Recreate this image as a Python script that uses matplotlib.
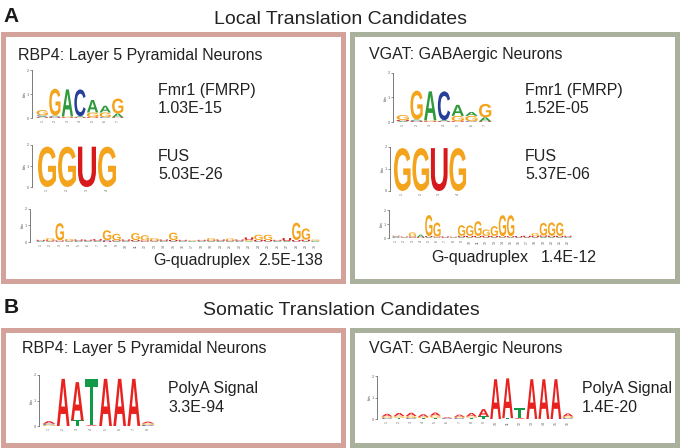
import matplotlib
matplotlib.use('Agg')
import matplotlib.pyplot as plt
from matplotlib.textpath import TextPath
from matplotlib.font_manager import FontProperties
from matplotlib.patches import PathPatch, Rectangle
from matplotlib.transforms import Affine2D

plt.rcParams['font.family'] = ['Liberation Sans', 'DejaVu Sans']

# ---------------- data ----------------
section_labels = ['A', 'B']
section_titles = ['Local Translation Candidates', 'Somatic Translation Candidates']
panel_titles = ['RBP4: Layer 5 Pyramidal Neurons', 'VGAT: GABAergic Neurons']
local_motif_names = ['Fmr1 (FMRP)', 'FUS', 'G-quadruplex']
local_pvalues_rbp4 = ['1.03E-15', '5.03E-26', '2.5E-138']
local_pvalues_vgat = ['1.52E-05', '5.37E-06', '1.4E-12']
somatic_motif_name = 'PolyA Signal'
somatic_pvalues = ['3.3E-94', '1.4E-20']

# logo columns: list of (letter, bits) from bottom to top
fmr1_rbp4 = [
    [('U', 0.03), ('A', 0.04), ('C', 0.04), ('G', 0.22)],
    [('U', 0.03), ('C', 0.03), ('A', 0.04), ('G', 1.12)],
    [('U', 0.03), ('G', 0.04), ('A', 1.12)],
    [('U', 0.03), ('A', 0.04), ('C', 1.12)],
    [('U', 0.03), ('G', 0.20), ('A', 0.52)],
    [('C', 0.03), ('G', 0.20), ('A', 0.28)],
    [('U', 0.03), ('A', 0.16), ('G', 0.62)],
]
fmr1_vgat = [
    [('A', 0.04), ('U', 0.04), ('G', 0.20)],
    [('U', 0.03), ('C', 0.03), ('A', 0.04), ('G', 1.18)],
    [('U', 0.03), ('G', 0.04), ('A', 1.18)],
    [('U', 0.03), ('A', 0.04), ('C', 1.18)],
    [('U', 0.03), ('G', 0.22), ('A', 0.45)],
    [('C', 0.03), ('G', 0.22), ('A', 0.16)],
    [('U', 0.03), ('A', 0.16), ('G', 0.55)],
]
fus_rbp4 = [[('G', 1.92)], [('G', 1.92)], [('U', 1.92)], [('G', 1.92)]]
fus_vgat = [[('G', 1.95)], [('G', 1.95)], [('U', 1.95)], [('G', 1.95)]]
gquad_rbp4 = [
    [('C', 0.03), ('A', 0.04), ('U', 0.06)],
    [('A', 0.04), ('U', 0.06), ('G', 0.14)],
    [('C', 0.03), ('U', 0.06), ('G', 1.05)],
    [('A', 0.04), ('U', 0.05), ('G', 0.10)],
    [('C', 0.03), ('A', 0.04), ('U', 0.08)],
    [('A', 0.04), ('C', 0.03), ('U', 0.07)],
    [('C', 0.03), ('A', 0.04), ('U', 0.10)],
    [('U', 0.06), ('C', 0.05), ('G', 0.60)],
    [('A', 0.04), ('U', 0.06), ('G', 0.40)],
    [('C', 0.03), ('A', 0.04), ('U', 0.08)],
    [('A', 0.04), ('U', 0.08), ('G', 0.42)],
    [('C', 0.03), ('U', 0.06), ('G', 0.32)],
    [('A', 0.04), ('U', 0.06), ('G', 0.14)],
    [('C', 0.03), ('A', 0.04), ('U', 0.08)],
    [('A', 0.04), ('U', 0.08), ('G', 0.45)],
    [('C', 0.03), ('A', 0.04), ('U', 0.06)],
    [('A', 0.03), ('C', 0.03), ('G', 0.05)],
    [('C', 0.03), ('A', 0.04), ('U', 0.06)],
    [('A', 0.04), ('U', 0.06), ('G', 0.14)],
    [('C', 0.03), ('A', 0.04), ('U', 0.08)],
    [('A', 0.04), ('U', 0.06), ('G', 0.12)],
    [('C', 0.03), ('A', 0.04), ('U', 0.08)],
    [('A', 0.04), ('G', 0.08), ('U', 0.16)],
    [('C', 0.04), ('U', 0.08), ('G', 0.32)],
    [('A', 0.04), ('U', 0.08), ('G', 0.32)],
    [('C', 0.03), ('A', 0.04), ('U', 0.06)],
    [('A', 0.06), ('U', 0.18)],
    [('C', 0.04), ('U', 0.08), ('G', 1.05)],
    [('A', 0.04), ('U', 0.10), ('G', 0.68)],
    [('C', 0.03), ('A', 0.04), ('G', 0.08)],
]
gquad_vgat = [
    [('C', 0.05), ('A', 0.06), ('U', 0.05)],
    [('A', 0.04), ('U', 0.06)],
    [('C', 0.04), ('U', 0.06), ('G', 0.30)],
    [('U', 0.06), ('A', 0.18)],
    [('A', 0.06), ('U', 0.08), ('G', 1.50)],
    [('A', 0.04), ('U', 0.06), ('G', 1.00)],
    [('C', 0.03), ('U', 0.08)],
    [('A', 0.04), ('U', 0.05)],
    [('A', 0.06), ('U', 0.10), ('G', 0.75)],
    [('A', 0.05), ('U', 0.10), ('G', 0.75)],
    [('A', 0.05), ('U', 0.10), ('G', 1.05)],
    [('A', 0.04), ('U', 0.12), ('G', 0.45)],
    [('A', 0.05), ('U', 0.10), ('G', 0.70)],
    [('A', 0.05), ('U', 0.08), ('G', 1.50)],
    [('A', 0.05), ('U', 0.08), ('G', 1.50)],
    [('C', 0.04), ('U', 0.10)],
    [('A', 0.04), ('U', 0.12)],
    [('A', 0.05), ('U', 0.10), ('G', 0.20)],
    [('A', 0.08), ('U', 0.10), ('G', 0.90)],
    [('A', 0.06), ('U', 0.10), ('G', 0.95)],
    [('A', 0.05), ('U', 0.10), ('G', 0.95)],
    [('C', 0.04), ('A', 0.04), ('U', 0.08)],
]
polya_rbp4 = [
    [('G', 0.05), ('C', 0.04), ('A', 0.10)],
    [('A', 1.85)],
    [('T', 0.22), ('A', 1.50)],
    [('A', 0.04), ('T', 1.80)],
    [('A', 1.85)],
    [('A', 1.85)],
    [('A', 1.85)],
    [('C', 0.04), ('G', 0.06), ('A', 0.07)],
]
polya_vgat = [
    [('C', 0.04), ('G', 0.08), ('A', 0.12)],
    [('T', 0.06), ('G', 0.08), ('A', 0.14)],
    [('C', 0.04), ('G', 0.10), ('A', 0.15)],
    [('T', 0.04), ('G', 0.06), ('A', 0.12)],
    [('T', 0.06), ('G', 0.10), ('A', 0.14)],
    [('C', 0.03), ('A', 0.05)],
    [('C', 0.04), ('G', 0.06), ('A', 0.10)],
    [('T', 0.06), ('G', 0.06), ('A', 0.16)],
    [('T', 0.12), ('A', 0.34)],
    [('A', 1.85)],
    [('T', 0.04), ('A', 1.85)],
    [('A', 0.05), ('T', 0.45)],
    [('A', 1.85)],
    [('A', 1.85)],
    [('A', 1.85)],
    [('C', 0.04), ('G', 0.08), ('A', 0.14)],
]

rna_colors = {'A': '#2f9a3c', 'C': '#26409a', 'G': '#f4a41c', 'U': '#d7191c'}
dna_colors = {'A': '#e8221e', 'C': '#26409a', 'G': '#f4a41c', 'T': '#139a48'}

# ---------------- figure ----------------
W, H = 681, 448
fig = plt.figure(figsize=(W / 100, H / 100), dpi=100)
TXT = '#222222'
PINK = '#d3a39b'
GREEN = '#a9b19d'


def fx(x):
    return x / W


def fy(y):
    return 1 - y / H


def ftext(x, y, s, size=11.5, **kw):
    kw.setdefault('color', TXT)
    fig.text(fx(x), fy(y), s, fontsize=size, va='baseline', **kw)


def box(x0, y0, x1, y1, color):
    fig.add_artist(Rectangle((fx(x0), fy(y1)), (x1 - x0) / W, (y1 - y0) / H,
                             transform=fig.transFigure, fill=False,
                             edgecolor=color, linewidth=3.6))


letter_font = FontProperties(family='Liberation Sans', weight='bold')
_paths = {}


def letter_path(ch):
    if ch not in _paths:
        _paths[ch] = TextPath((0, 0), ch, size=1, prop=letter_font)
    return _paths[ch]


def logo(columns, colors, x_axis, x_start, x_end, y_top, y_zero):
    n = len(columns)
    w = (x_end - x_start) / n
    ax = fig.add_axes([fx(x_axis), fy(y_zero), (x_end - x_axis) / W, (y_zero - y_top) / H])
    ax.set_xlim(0.5 - (x_start - x_axis) / w, n + 0.5)
    ax.set_ylim(0, 2)
    ax.patch.set_alpha(0)
    for s in ['top', 'right', 'bottom']:
        ax.spines[s].set_visible(False)
    ax.spines['left'].set_color('#666666')
    ax.spines['left'].set_linewidth(0.6)
    ax.set_yticks([0, 1, 2])
    ax.set_yticklabels(['0', '1', '2'], fontsize=2.8, color='#555555')
    ax.tick_params(axis='y', length=1.5, width=0.5, pad=0.5, colors='#666666')
    ax.set_ylabel('bits', fontsize=2.8, color='#555555', labelpad=0.5)
    ax.set_xticks(range(1, n + 1))
    ax.set_xticklabels([str(i) for i in range(1, n + 1)], fontsize=2.6,
                       rotation=90, color='#666666')
    ax.tick_params(axis='x', length=0, pad=1.5)
    for i, col in enumerate(columns, start=1):
        y = 0.0
        for ch, h in col:
            p = letter_path(ch)
            e = p.get_extents()
            tr = (Affine2D().translate(-e.x0, -e.y0)
                  .scale(0.9 / e.width, h / e.height)
                  .translate(i - 0.45, y))
            ax.add_patch(PathPatch(tr.transform_path(p), facecolor=colors[ch],
                                   edgecolor='none'))
            y += h
    return ax


# section headings
ftext(3, 22, section_labels[0], size=15, fontweight='bold', color='#1a1a1a')
fig.text(fx(341), fy(24), section_titles[0], fontsize=14, ha='center', va='baseline', color=TXT)
ftext(4, 313, section_labels[1], size=15, fontweight='bold', color='#1a1a1a')
fig.text(fx(341), fy(315), section_titles[1], fontsize=14, ha='center', va='baseline', color=TXT)

# boxes
box(2.5, 34.5, 342.5, 280.5, PINK)
box(351.5, 34.5, 676.5, 280.5, GREEN)
box(2.5, 329.5, 342.5, 444.5, PINK)
box(351.5, 329.5, 676.5, 444.5, GREEN)

# panel titles
ftext(18, 60, panel_titles[0])
ftext(369, 59, panel_titles[1])
ftext(22, 353, panel_titles[0])
ftext(369, 353, panel_titles[1])

# local motifs - RBP4
ftext(158, 95, local_motif_names[0])
ftext(158, 113, local_pvalues_rbp4[0])
ftext(158, 161, local_motif_names[1])
ftext(158, 179, local_pvalues_rbp4[1])
ftext(153, 265, local_motif_names[2])
fig.text(fx(323), fy(265), local_pvalues_rbp4[2], fontsize=11.5, ha='right', va='baseline', color=TXT)

# local motifs - VGAT
ftext(525, 95, local_motif_names[0])
ftext(525, 113, local_pvalues_vgat[0])
ftext(525, 161, local_motif_names[1])
ftext(525, 179, local_pvalues_vgat[1])
ftext(431, 262, local_motif_names[2])
fig.text(fx(597), fy(262), local_pvalues_vgat[2], fontsize=11.5, ha='right', va='baseline', color=TXT)

# somatic
ftext(168, 393, somatic_motif_name)
ftext(168, 412, somatic_pvalues[0])
ftext(582, 393, somatic_motif_name)
ftext(582, 412, somatic_pvalues[1])

# logos
logo(fmr1_rbp4, rna_colors, 32, 36, 124, 70, 118)
logo(fus_rbp4, rna_colors, 32, 37, 117, 145, 187)
logo(gquad_rbp4, rna_colors, 30, 36, 320, 209, 242)
logo(fmr1_vgat, rna_colors, 393, 396, 492, 73, 122)
logo(fus_vgat, rna_colors, 390, 393, 467, 147, 191)
logo(gquad_vgat, rna_colors, 389, 392, 572, 210, 238)
logo(polya_rbp4, dna_colors, 39, 42, 155, 375, 426)
logo(polya_vgat, dna_colors, 377, 381, 574, 376, 419)

fig.savefig('out.png', dpi=100)
